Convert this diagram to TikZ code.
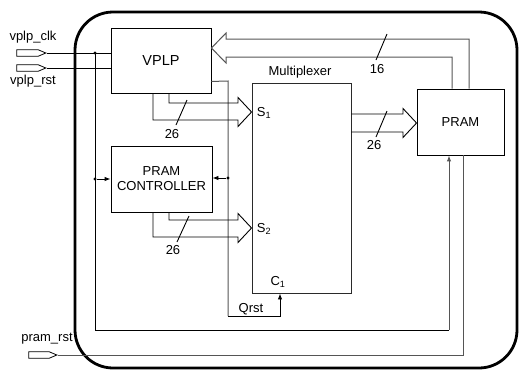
\documentclass[tikz,border=0pt]{standalone}
\usepackage{fontspec}
\setmainfont{Liberation Sans}
\usetikzlibrary{arrows.meta,shapes.symbols}
\definecolor{wgray}{HTML}{555555}
\begin{document}
\begin{tikzpicture}[x=1pt,y=-1pt,
  font=\fontsize{13}{15}\selectfont,
  box/.style={draw=black, line width=0.9pt, inner sep=0pt, align=center},
  port/.style={draw, signal, signal to=east, signal pointer angle=46, minimum width=29pt, minimum height=6.5pt, inner sep=0pt, line width=0.8pt},
  wire/.style={line width=0.9pt},
  gwire/.style={line width=1pt, draw=wgray},
  arr/.style={-{Latex[length=6pt,width=4.5pt]}},
  dot/.style={circle, fill, inner sep=0pt, minimum size=3.2pt},
  lbl/.style={inner sep=0pt}
]
\useasboundingbox (0,0) rectangle (520,370);
% outer frame
\draw[line width=2.8pt, rounded corners=38pt] (75,12) rectangle (517,368);

% blocks
\node[box, minimum width=100pt, minimum height=65pt, font=\fontsize{14.5}{16}\selectfont] (vplp) at (161,60.5) {VPLP};
\node[box, minimum width=101pt, minimum height=66pt] (pc) at (161.5,179) {PRAM\\CONTROLLER};
\node[box, draw=wgray!50!black, minimum width=99pt, minimum height=210pt] (mux) at (301.5,188) {};
\node[box, minimum width=87pt, minimum height=66pt] (pram) at (460.5,122) {PRAM};

% ports
\node[port] (clkport) at (27.5,53) {};
\node[port] (rstport) at (27.5,68) {};
\node[port, minimum width=28pt] (prport) at (39,355) {};
\node[lbl] (clklbl) at (33,37) {vplp\_clk};
\node[lbl] (rstlbl) at (33,81) {vplp\_rst};
\node[lbl] (prlbl) at (47,339) {pram\_rst};

% text labels
\node[lbl] (muxlbl) at (300,72) {Multiplexer};
\node[lbl] (s1) at (264,113) {S\textsubscript{1}};
\node[lbl] (s2) at (264,229) {S\textsubscript{2}};
\node[lbl] (c1) at (278,282) {C\textsubscript{1}};
\node[lbl] (qrst) at (251,309) {Qrst};

% clock / reset inputs
\coordinate (clkdot) at (95,53);
\draw[wire] (clkport.east) -- (clkport.east -| vplp.west);
\draw[wire] (rstport.east) -- (rstport.east -| vplp.west);
\node[dot] (d1) at (clkdot) {};
\draw[wire] (clkdot) -- (95,330) -- (449,330);
\draw[gwire, arr] (449,330) -- (449,0 |- pram.south);
\node[dot] (d2) at (95,179) {};
\draw[wire, arr] (d2) -- (pc.west);

% Qrst
\draw[gwire] ([yshift=12pt]vplp.south east) -- (228,81) -- (228,316);
\draw[wire, arr] (228,316) -- (280,316) -- (280,0 |- mux.south);
\node[dot] (d3) at (228,178) {};
\draw[wire, arr] (d3) -- (pc.east |- d3);

% pram_rst
\draw[gwire] (prport.east) -- (463,355) -- (463,0 |- pram.south);

% bus VPLP -> S1
\draw[wire] (153,0 |- vplp.south) -- (153,120) -- (238,120) -- (238,126.5) -- (mux.west |- 0,112) -- (238,97.5) -- (238,103) -- (169,103) -- (169,0 |- vplp.south);
\draw[wire] (187,100) -- (176,125);
\node[lbl] (n1) at (172,134) {26};

% bus PC -> S2
\draw[wire] (153,0 |- pc.south) -- (153,237) -- (238,237) -- (238,242.5) -- (mux.west |- 0,228) -- (238,213.5) -- (238,220) -- (169,220) -- (169,0 |- pc.south);
\draw[wire] (189,216) -- (177,242);
\node[lbl] (n2) at (173,250) {26};

% bus MUX -> PRAM
\draw[wire] (mux.east |- 0,132) -- (403,132) -- (403,137.5) -- (pram.west |- 0,123) -- (403,108.5) -- (403,114) -- (mux.east |- 0,114);
\draw[wire] (387,111) -- (376,137);
\node[lbl] (n3) at (374,145) {26};

% bus PRAM -> VPLP
\draw[gwire] (469,0 |- pram.north) -- (469,39) -- (226,39) -- (226,33) -- (vplp.east |- 0,48) -- (226,63) -- (226,57) -- (452,57) -- (452,0 |- pram.north);
\draw[wire] (387,34) -- (376,60);
\node[lbl] (n4) at (377,69) {16};
\end{tikzpicture}
\end{document}
